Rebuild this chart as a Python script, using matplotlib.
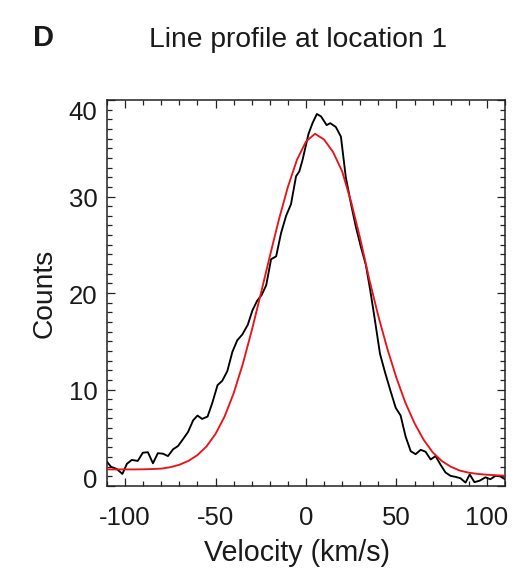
import matplotlib
matplotlib.use("Agg")
import matplotlib.pyplot as plt
from matplotlib.ticker import MultipleLocator
from matplotlib.transforms import ScaledTranslation

# ---- data ----
obs_velocity = [-110.0, -107.8, -104.5, -101.5, -99.0, -96.3, -93.0, -90.2, -87.4, -84.6,
                -81.9, -79.1, -76.3, -73.5, -70.7, -68.0, -65.2, -62.4, -60.0, -57.4,
                -54.4, -51.9, -48.9, -46.3, -43.5, -40.7, -38.0, -35.2, -32.2, -29.6,
                -27.0, -24.5, -22.0, -19.3, -16.5, -13.8, -11.0, -8.3, -5.5, -3.7,
                -1.9, 1.4, 3.6, 6.0, 8.3, 11.4, 13.4, 16.5, 19.3, 22.0,
                24.8, 27.5, 30.3, 33.1, 35.5, 38.0, 40.9, 43.8, 46.8, 49.6,
                52.3, 55.1, 57.9, 60.6, 63.4, 66.1, 68.9, 71.6, 74.4, 77.1,
                79.9, 82.6, 85.4, 88.2, 90.5, 93.1, 96.0, 99.2, 101.9, 104.7,
                107.4, 110.0]
obs_counts = [2.5, 2.0, 1.75, 1.25, 2.3, 2.7, 2.6, 3.45, 3.5, 2.35,
              3.4, 3.35, 3.1, 3.8, 4.15, 4.85, 5.6, 6.8, 7.3, 6.95,
              7.2, 8.55, 10.45, 10.9, 11.9, 13.9, 15.1, 15.7, 16.7, 18.2,
              19.2, 19.8, 20.8, 23.5, 23.8, 26.2, 28.0, 29.2, 32.1, 32.6,
              33.8, 36.5, 37.6, 38.55, 38.3, 37.4, 37.6, 37.2, 36.2, 32.0,
              29.3, 26.9, 24.8, 22.9, 20.3, 17.3, 13.7, 11.7, 9.8, 8.1,
              7.3, 5.1, 3.6, 3.3, 3.75, 3.55, 2.75, 3.1, 2.2, 1.4,
              1.05, 0.95, 0.8, 0.35, 1.2, 0.4, 0.55, 0.9, 0.7, 1.05,
              1.0, 0.7]

fit_velocity = [-110, -105, -100, -95, -90, -85, -80, -75, -70, -65, -60, -55, -50,
                -45, -40, -35, -30, -25, -20, -15, -10, -5, 0, 5, 10, 15, 20,
                25, 30, 35, 40, 45, 50, 55, 60, 65, 70, 75, 80, 85, 90, 95,
                100, 105, 110]
fit_counts = [1.72, 1.72, 1.72, 1.72, 1.73, 1.76, 1.80, 1.95, 2.2, 2.6, 3.2, 4.1, 5.4,
              7.2, 9.6, 12.6, 16.1, 19.9, 23.8, 27.6, 31.0, 33.8, 35.7, 36.5, 35.9, 34.6, 32.6,
              29.4, 25.6, 21.4, 17.6, 14.2, 11.2, 8.6, 6.5, 4.8, 3.5, 2.6, 2.0, 1.6, 1.38, 1.25,
              1.17, 1.11, 1.07]

x_ticks = [-100, -50, 0, 50, 100]
x_ticklabels = ["-100", "-50", "0", "50", "100"]
y_ticks = [0, 10, 20, 30, 40]
y_ticklabels = ["0", "10", "20", "30", "40"]

title = "Line profile at location 1"
panel = "D"
xlabel = "Velocity (km/s)"
ylabel = "Counts"

# ---- figure ----
plt.rcParams['font.family'] = ['Liberation Sans', 'DejaVu Sans']
fig = plt.figure(figsize=(5.2, 5.74), dpi=100)
ax = fig.add_axes([107/520, 1-486/574, 398/520, 386/574])

ax.plot(fit_velocity, fit_counts, color='#e8141c', lw=1.35, zorder=3)
ax.plot(obs_velocity, obs_counts, color='black', lw=1.35, zorder=2)

ax.set_xlim(-110, 110)
ax.set_ylim(0, 40)
ax.set_xticks(x_ticks)
ax.set_xticklabels(x_ticklabels)
ax.set_yticks(y_ticks)
ax.set_yticklabels(y_ticklabels)
ax.xaxis.set_minor_locator(MultipleLocator(10))
ax.yaxis.set_minor_locator(MultipleLocator(1))

ax.tick_params(which='both', direction='in', top=True, right=True, color='#222222', width=0.9)
ax.tick_params(which='major', length=6)
ax.tick_params(which='minor', length=3.3)
ax.tick_params(axis='x', which='major', labelsize=18.5, pad=14.5, labelcolor='#1a1a1a')
ax.tick_params(axis='y', which='major', labelsize=18.5, pad=7, labelcolor='#1a1a1a')
for s in ax.spines.values():
    s.set_linewidth(1.1)
    s.set_color('#222222')

# journal-style nudges of the end labels
offsets_px = {"40": -11, "0": 7}
for lab, tickval in zip(ax.get_yticklabels(), y_ticks):
    dy = offsets_px.get(str(tickval), -1)
    lab.set_transform(lab.get_transform() + ScaledTranslation(0, dy/100, fig.dpi_scale_trans))

ax.set_xlabel(xlabel, fontsize=20.6, color='#1a1a1a')
ax.xaxis.set_label_coords((297 - 107) / 398, -(561 - 486) / 386)
ax.xaxis.label.set_va('baseline')
ax.set_ylabel(ylabel, fontsize=20.3, color='#1a1a1a', labelpad=8)

fig.text(298/520, 1-47/574, title, fontsize=20.3, ha='center', va='baseline', color='#1a1a1a')
fig.text(33/520, 1-46/574, panel, fontsize=21, fontweight='bold', ha='left', va='baseline',
         color='#1a1a1a', family=['Liberation Sans Narrow', 'Liberation Sans', 'DejaVu Sans'])

fig.savefig("out.png", dpi=100)
